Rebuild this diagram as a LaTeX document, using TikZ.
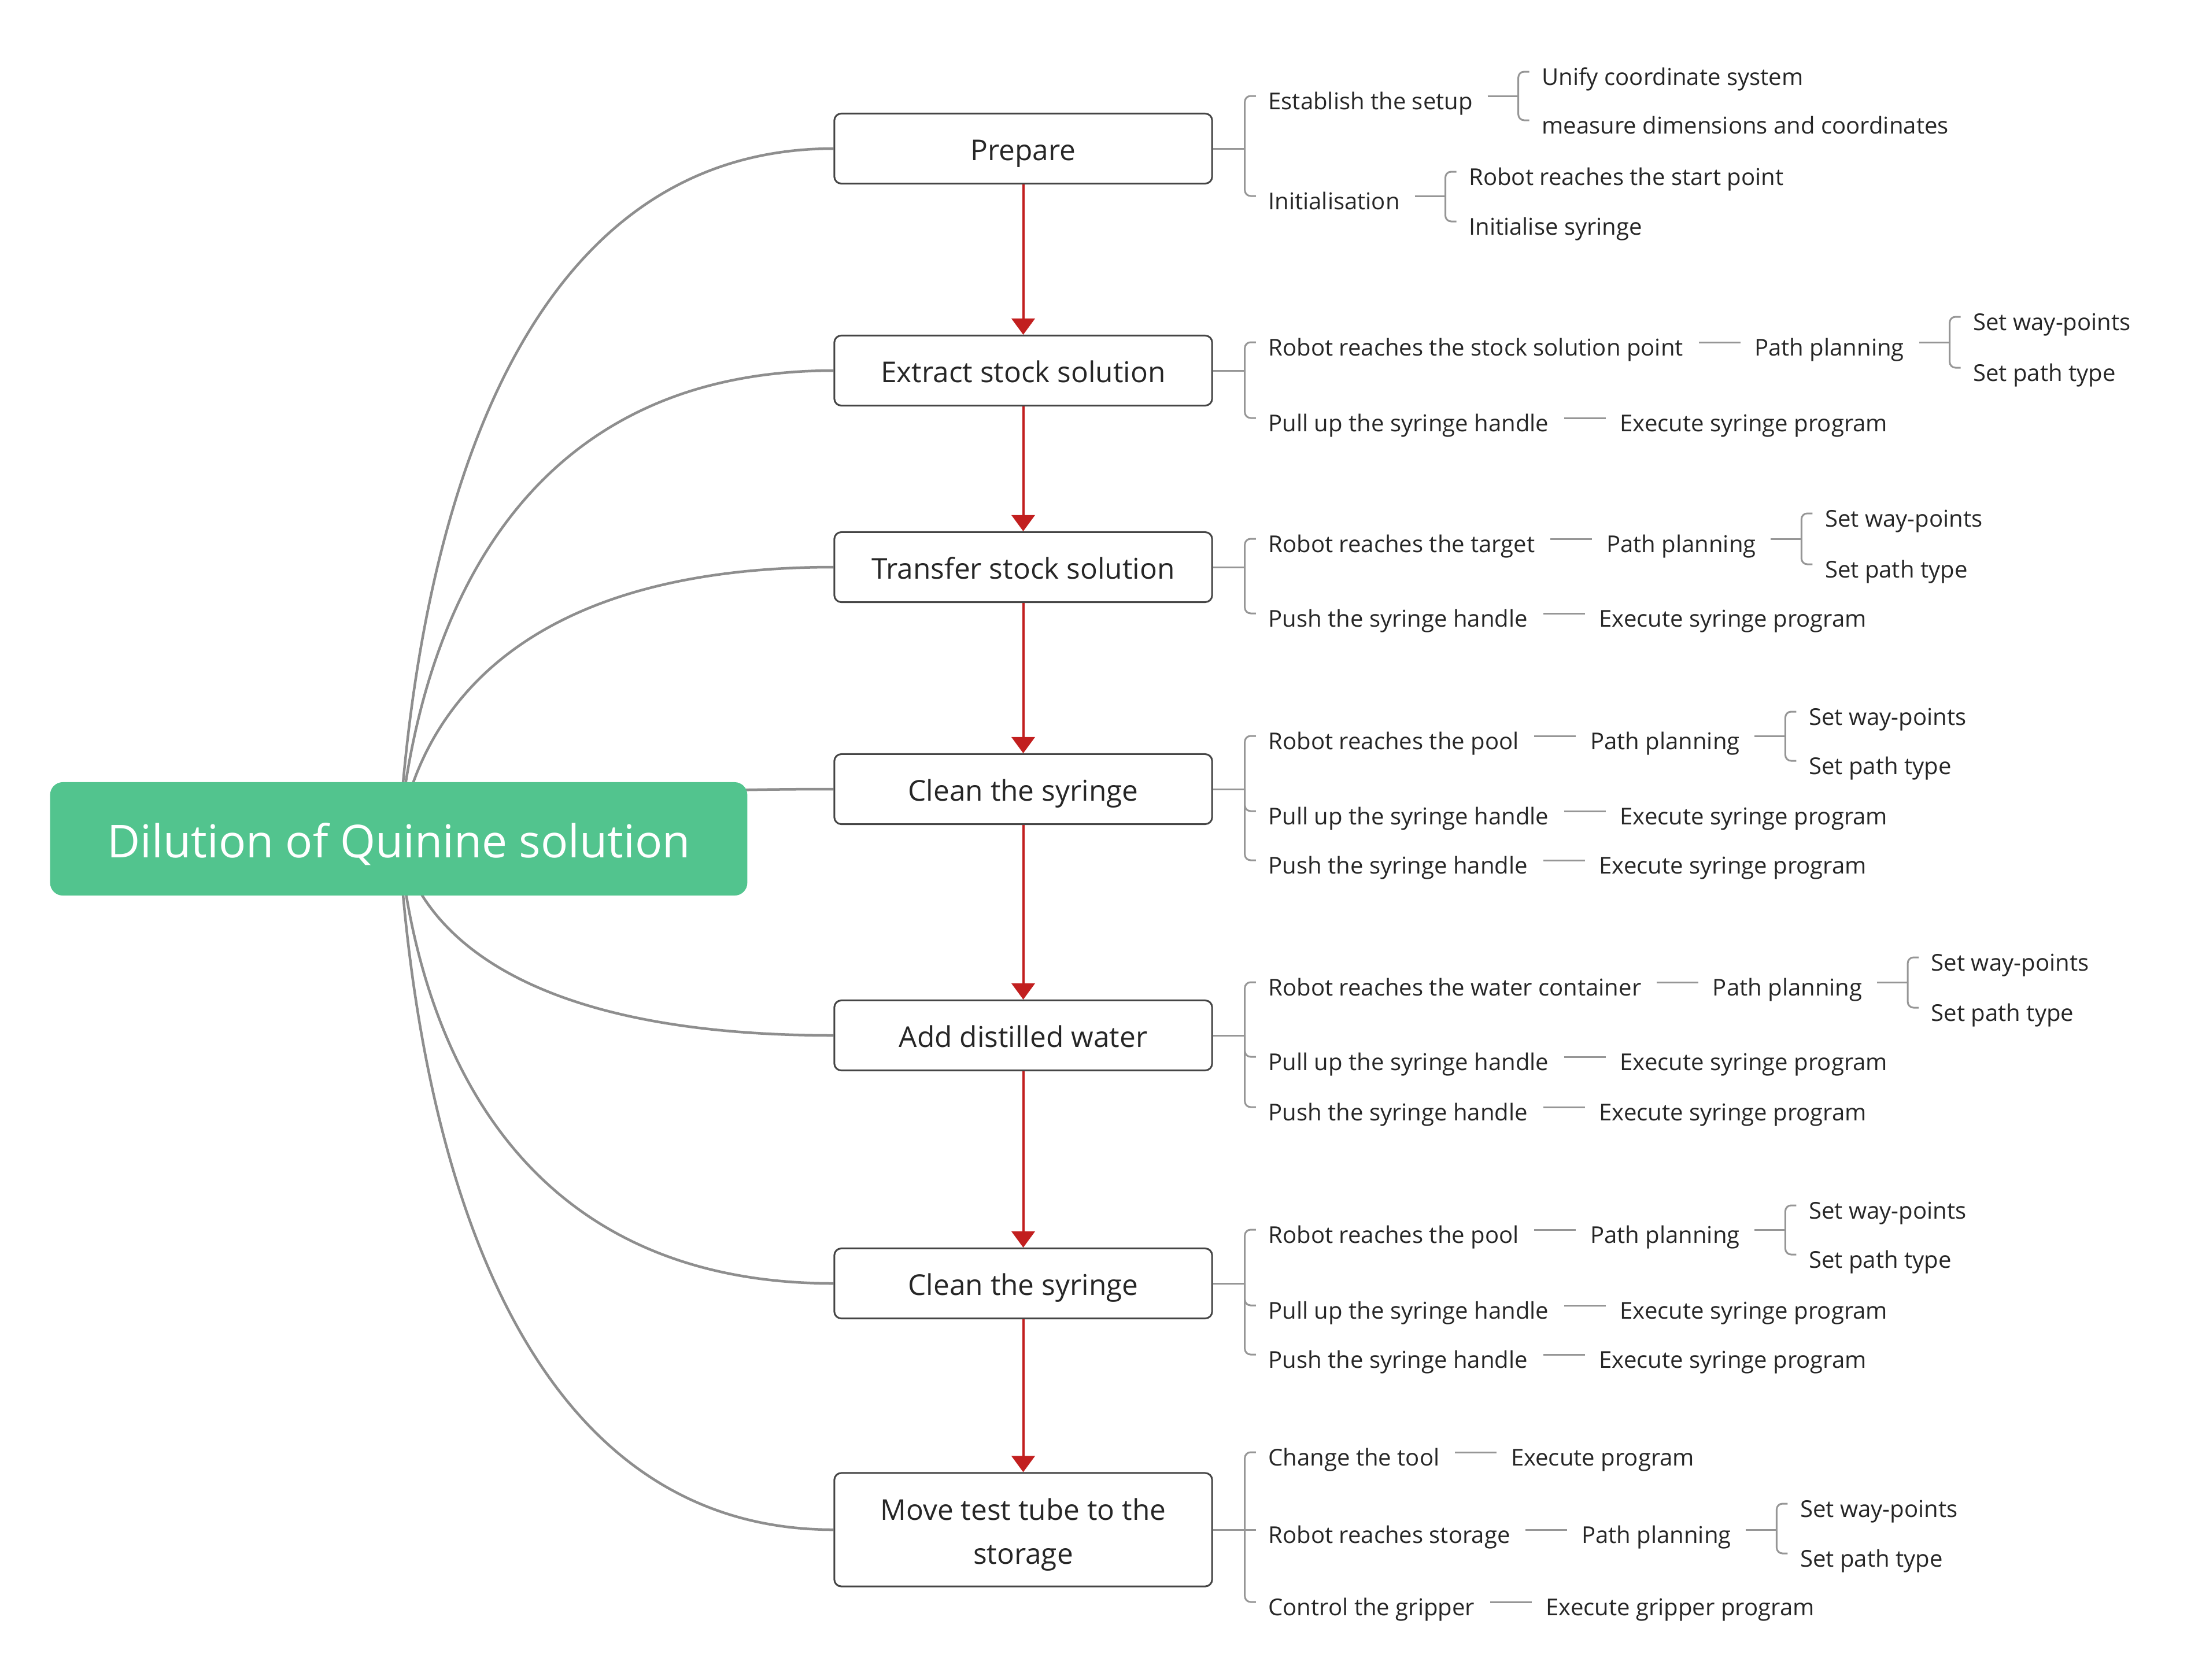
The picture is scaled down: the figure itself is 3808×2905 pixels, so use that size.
\documentclass[tikz,border=0pt]{standalone}
\usepackage{fontspec}
\setmainfont{Open Sans}
\usetikzlibrary{calc,arrows.meta}
\pgfdeclarelayer{background}
\pgfsetlayers{background,main}

\definecolor{mintgreen}{HTML}{52C48E}
\definecolor{linkgray}{HTML}{8E8E8E}
\definecolor{twiggray}{HTML}{969696}
\definecolor{flowred}{HTML}{C21F1F}
\definecolor{inkdark}{HTML}{262626}
\definecolor{boxedge}{HTML}{454545}

% one unit = one pixel of the 3808 x 2905 canvas, y grows downwards
\tikzset{
  x=0.01cm, y=-0.01cm,
  rootbox/.style={fill=mintgreen, text=white, rounded corners=0.22cm,
    minimum width=12.05cm, minimum height=1.96cm, inner sep=0pt,
    font=\fontsize{22.3pt}{27pt}\selectfont, text height=0.84cm, text depth=0.2cm},
  stepbox/.style={draw=boxedge, fill=white, line width=0.03cm, rounded corners=0.12cm,
    minimum width=6.53cm, minimum height=1.21cm, inner sep=0pt, align=center,
    text=inkdark, font=\fontsize{14.1pt}{21.4pt}\selectfont,
    text height=0.55cm, text depth=0.14cm},
  leaf/.style={anchor=west, inner sep=0pt, text=inkdark,
    font=\fontsize{11.4pt}{14pt}\selectfont, text height=0.46cm, text depth=0pt},
  twig/.style={draw=twiggray, line width=0.03cm, rounded corners=0.1cm},
  limb/.style={draw=linkgray, line width=0.045cm},
  flow/.style={draw=flowred, line width=0.04cm, -{Triangle[width=0.4cm,length=0.28cm]}}
}

% junction of a bracket to the right of a topic
\newcommand\forkat[3]{%
  \coordinate (#1-j) at ([xshift=#3]#1.east);
  \draw[twig] ([xshift=#2]#1.east) -- (#1-j);}
% child topic hanging from the bracket of its parent
\newcommand\kidnode[4]{%
  \coordinate (#2-x) at ([xshift=0.40cm]#1-j);
  \node[leaf] (#2) at (#2-x |- 0,#3) {#4};
  \draw[twig] (#1-j) |- ([xshift=-0.21cm]#2.west);}
% child topic level with the bracket junction
\newcommand\kidflat[3]{%
  \node[leaf] (#2) at ([xshift=0.40cm]#1-j) {#3};
  \draw[twig] (#1-j) -- ([xshift=-0.21cm]#2.west);}
% single follow-up topic on the same line
\newcommand\pairnode[3]{%
  \node[leaf] (#2) at ([xshift=1.22cm]#1.east) {#3};
  \draw[twig] ([xshift=0.26cm]#1.east) -- ([xshift=-0.24cm]#2.west);}

\begin{document}
\begin{tikzpicture}
\path[use as bounding box] (0,0) rectangle (3808,2905);

% central topic and the seven steps
\node[rootbox] (root) at (689.5,1451) {Dilution of Quinine solution};
\node[stepbox] (b1) at (1769.5,257) {Prepare};
\node[stepbox] (b2) at (1769.5,641) {Extract stock solution};
\node[stepbox] (b3) at (1769.5,981) {Transfer stock solution};
\node[stepbox] (b4) at (1769.5,1365) {Clean the syringe};
\node[stepbox] (b5) at (1769.5,1791) {Add distilled water};
\node[stepbox] (b6) at (1769.5,2220) {Clean the syringe};
\node[stepbox, minimum height=1.96cm, text height=1.32cm, text depth=0.14cm] (b7)
  at (1769.5,2646) {Move test tube to the\\storage};

% white page and curved links from the central topic
\begin{pgfonlayer}{background}
\fill[white] (0,0) rectangle (3808,2905);
\foreach \b in {b1,b2,b3,b4,b5,b6,b7}{
  \draw[limb] (root.center)
    .. controls ($(root.center)!0.5!(root.center |- \b.west)+(38,0)$)
           and ($(root.center |- \b.west)+(226,0)$) .. (\b.west);
}
\end{pgfonlayer}

% sequence of steps
\draw[flow] (b1.south) -- (b2.north);
\draw[flow] (b2.south) -- (b3.north);
\draw[flow] (b3.south) -- (b4.north);
\draw[flow] (b4.south) -- (b5.north);
\draw[flow] (b5.south) -- (b6.north);
\draw[flow] (b6.south) -- (b7.north);

% Prepare
\forkat{b1}{0cm}{0.55cm}
\kidnode{b1}{b1a}{166}{Establish the setup}
\kidnode{b1}{b1b}{339}{Initialisation}
\forkat{b1a}{0.25cm}{0.78cm}
\kidnode{b1a}{b1a1}{124}{Unify coordinate system}
\kidnode{b1a}{b1a2}{208}{measure dimensions and coordinates}
\forkat{b1b}{0.25cm}{0.78cm}
\kidnode{b1b}{b1b1}{297}{Robot reaches the start point}
\kidnode{b1b}{b1b2}{383}{Initialise syringe}

% Extract stock solution
\forkat{b2}{0cm}{0.55cm}
\kidnode{b2}{b2a}{592}{Robot reaches the stock solution point}
\kidnode{b2}{b2b}{723}{Pull up the syringe handle}
\pairnode{b2a}{b2a1}{Path planning}
\forkat{b2a1}{0.25cm}{0.78cm}
\kidnode{b2a1}{b2a1x}{548}{Set way-points}
\kidnode{b2a1}{b2a1y}{636}{Set path type}
\pairnode{b2b}{b2b1}{Execute syringe program}

% Transfer stock solution
\forkat{b3}{0cm}{0.55cm}
\kidnode{b3}{b3a}{932}{Robot reaches the target}
\kidnode{b3}{b3b}{1061}{Push the syringe handle}
\pairnode{b3a}{b3a1}{Path planning}
\forkat{b3a1}{0.25cm}{0.78cm}
\kidnode{b3a1}{b3a1x}{888}{Set way-points}
\kidnode{b3a1}{b3a1y}{976}{Set path type}
\pairnode{b3b}{b3b1}{Execute syringe program}

% Clean the syringe
\forkat{b4}{0cm}{0.55cm}
\kidnode{b4}{b4a}{1273}{Robot reaches the pool}
\kidnode{b4}{b4b}{1403}{Pull up the syringe handle}
\kidnode{b4}{b4c}{1488}{Push the syringe handle}
\pairnode{b4a}{b4a1}{Path planning}
\forkat{b4a1}{0.25cm}{0.78cm}
\kidnode{b4a1}{b4a1x}{1231}{Set way-points}
\kidnode{b4a1}{b4a1y}{1316}{Set path type}
\pairnode{b4b}{b4b1}{Execute syringe program}
\pairnode{b4c}{b4c1}{Execute syringe program}

% Add distilled water
\forkat{b5}{0cm}{0.55cm}
\kidnode{b5}{b5a}{1699}{Robot reaches the water container}
\kidnode{b5}{b5b}{1828}{Pull up the syringe handle}
\kidnode{b5}{b5c}{1915}{Push the syringe handle}
\pairnode{b5a}{b5a1}{Path planning}
\forkat{b5a1}{0.25cm}{0.78cm}
\kidnode{b5a1}{b5a1x}{1656}{Set way-points}
\kidnode{b5a1}{b5a1y}{1743}{Set path type}
\pairnode{b5b}{b5b1}{Execute syringe program}
\pairnode{b5c}{b5c1}{Execute syringe program}

% Clean the syringe (second time)
\forkat{b6}{0cm}{0.55cm}
\kidnode{b6}{b6a}{2127}{Robot reaches the pool}
\kidnode{b6}{b6b}{2258}{Pull up the syringe handle}
\kidnode{b6}{b6c}{2343}{Push the syringe handle}
\pairnode{b6a}{b6a1}{Path planning}
\forkat{b6a1}{0.25cm}{0.78cm}
\kidnode{b6a1}{b6a1x}{2085}{Set way-points}
\kidnode{b6a1}{b6a1y}{2170}{Set path type}
\pairnode{b6b}{b6b1}{Execute syringe program}
\pairnode{b6c}{b6c1}{Execute syringe program}

% Move test tube to the storage
\forkat{b7}{0cm}{0.55cm}
\kidnode{b7}{b7a}{2512}{Change the tool}
\kidflat{b7}{b7b}{Robot reaches storage}
\kidnode{b7}{b7c}{2771}{Control the gripper}
\pairnode{b7a}{b7a1}{Execute program}
\pairnode{b7b}{b7b1}{Path planning}
\forkat{b7b1}{0.25cm}{0.78cm}
\kidnode{b7b1}{b7b1x}{2601}{Set way-points}
\kidnode{b7b1}{b7b1y}{2687}{Set path type}
\pairnode{b7c}{b7c1}{Execute gripper program}
\end{tikzpicture}
\end{document}
